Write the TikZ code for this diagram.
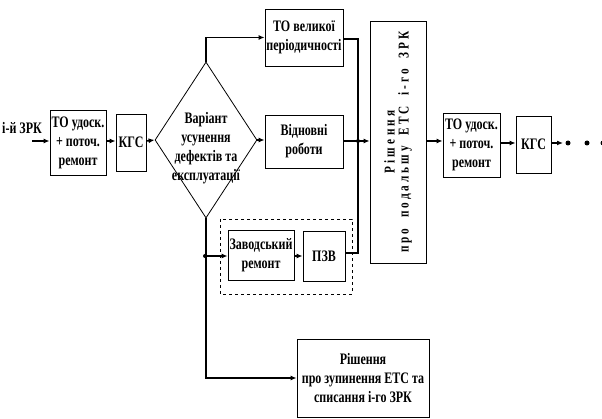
\documentclass[tikz,border=0pt]{standalone}
\usepackage{fontspec}
\setmainfont{Liberation Serif}[BoldFont={Liberation Serif Bold}, FakeStretch=0.75]
\usetikzlibrary{arrows.meta,shapes.geometric}

\begin{document}
\begin{tikzpicture}[x=1pt,y=-1pt,
  every node/.style={font=\bfseries\fontsize{16}{19}\selectfont, align=center, inner sep=0pt},
  blok/.style={draw, line width=0.8pt},
  lnk/.style={line width=1.6pt},
  arr/.style={lnk, -{Latex[length=6pt,width=5pt]}},
  pnt/.style={circle, fill, minimum size=4pt}]
\useasboundingbox (0,0) rectangle (602,419);

% chain at the left
\node at (22,128) {і-й ЗРК};
\coordinate (vhid) at (32,141);
\node[blok, minimum width=56, minimum height=65] (to1) at (78,142.5) {ТО удоск.\\+ поточ.\\ремонт};
\node[blok, minimum width=30, minimum height=57] (kgs1) at (131,142.5) {КГС};
\node[blok, diamond, minimum width=102, minimum height=156,
  label={[yshift=-8pt]center:Варіант\\усунення\\дефектів та\\експлуатації}] (var) at (206,140) {};

% branches
\node[blok, minimum width=78, minimum height=57] (tovp) at (304,37.5) {ТО великої\\періодичності};
\node[blok, minimum width=78, minimum height=53] (vidn) at (304,141.5) {Відновні\\роботи};
\node[blok, minimum width=66, minimum height=50] (zav) at (261,255) {Заводський\\ремонт};
\node[blok, minimum width=42, minimum height=50] (pzv) at (324,256) {ПЗВ};
\draw[line width=0.8pt, dashed] (220,219) rectangle (352,294);
\node[blok, minimum width=132, minimum height=78] (stop) at (363,378) {Рішення\\про зупинення ЕТС та\\списання і-го ЗРК};

% decision and chain at the right
\node[blok, minimum width=56, minimum height=242] (rish) at (398,142) {};
\node[rotate=90, font=\bfseries\fontsize{15}{14}\selectfont] at (rish)
  {\addfontfeature{LetterSpace=22}Рішення\\\addfontfeature{LetterSpace=20}про\hspace{5pt} подальшу\hspace{5pt} ЕТС\hspace{5pt} і-го\hspace{5pt} ЗРК};
\node[blok, minimum width=57, minimum height=64] (to2) at (471.5,145) {ТО удоск.\\+ поточ.\\ремонт};
\node[blok, minimum width=35, minimum height=57] (kgs2) at (533.5,144.5) {КГС};
\coordinate (dali) at (563,143);
\node[pnt, minimum size=5pt] (d1) at (568,143) {};
\node[pnt, minimum size=5pt] (d2) at (587,143) {};
\node[pnt, minimum size=5pt] (d3) at (603,143) {};

% connectors
\coordinate (shyna) at (358,141);
\coordinate (vuzol) at (205,256);
\draw[arr] (vhid) -- (to1.west |- vhid);
\draw[arr] (to1.east |- vhid) -- (kgs1.west |- vhid);
\draw[arr] (kgs1.east |- vhid) -- (var.west);
\draw[arr] (var.north) |- (tovp.west);
\draw[arr] (var.east) -- (vidn.west |- var.east);
\draw[lnk] (tovp.east |- 0,39) -| (shyna);
\draw[lnk] (vidn.east |- shyna) -- (shyna);
\draw[lnk] (pzv.east |- 0,253) -| (shyna);
\node[pnt] at (shyna) {};
\draw[arr] (shyna) -- (rish.west |- shyna);
\draw[arr] (var.south) |- (stop.west);
\node[pnt] at (vuzol) {};
\draw[arr] (vuzol) -- (zav.west |- vuzol);
\draw[arr] (zav.east |- vuzol) -- (pzv.west |- vuzol);
\draw[arr] (rish.east |- shyna) -- (to2.west |- shyna);
\draw[arr] (to2.east |- dali) -- (kgs2.west |- dali);
\draw[arr] (kgs2.east |- dali) -- (dali);
\end{tikzpicture}
\end{document}
